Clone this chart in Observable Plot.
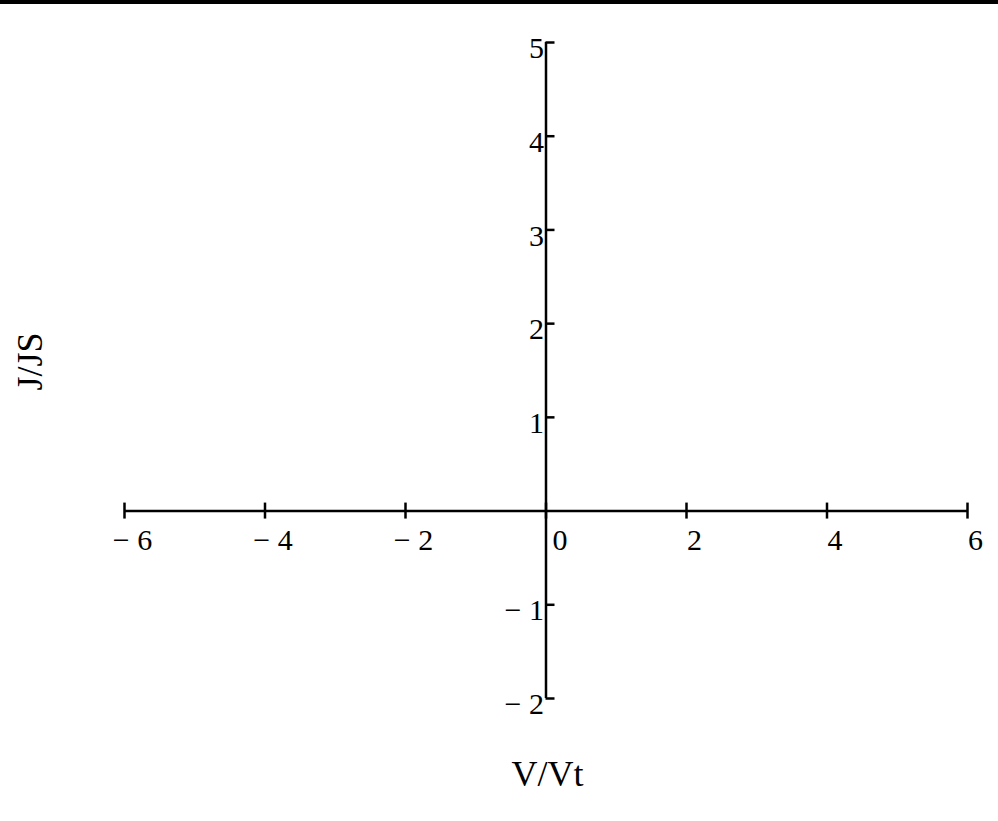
<!DOCTYPE html>
<html>
<head>
<meta charset="utf-8">
<script src="https://cdn.jsdelivr.net/npm/d3@7"></script>
<script src="https://cdn.jsdelivr.net/npm/@observablehq/plot@0.6"></script>
<style>
  html, body { margin: 0; padding: 0; background: #fff; }
  #bar { height: 4px; background: #000; width: 998px; }
  svg { display: block; }
</style>
</head>
<body>
<div id="bar"></div>
<div id="chart"></div>
<script>
// Axis extents and tick values (no data curve is drawn in the reference)
const xDomain = [-6, 6];
const yDomain = [-2, 5];
const xTicks = [-6, -4, -2, 0, 2, 4, 6];
const xTickLabels = ["\u2212 6", "\u2212 4", "\u2212 2", "0", "2", "4", "6"];
const yTicks = [-2, -1, 1, 2, 3, 4, 5];
const yTickLabels = ["\u2212 2", "\u2212 1", "1", "2", "3", "4", "5"];
const xTitle = "V/Vt";
const yTitle = "J/JS";

const xLab = xTicks.map((v, i) => ({v, t: xTickLabels[i]}));
const yLab = yTicks.map((v, i) => ({v, t: yTickLabels[i]}));

const font = "'Liberation Serif', 'Times New Roman', serif";

const chart = Plot.plot({
  width: 998,
  height: 817,
  marginLeft: 124,
  marginRight: 31,
  marginTop: 38,
  marginBottom: 123,
  style: {fontFamily: font, fontSize: "30px", color: "#000", background: "#fff"},
  x: {domain: xDomain, axis: null},
  y: {domain: yDomain, axis: null},
  marks: [
    // x axis line
    Plot.ruleY([0], {x1: xDomain[0], x2: xDomain[1], stroke: "#000", strokeWidth: 2.5}),
    // y axis line
    Plot.ruleX([0], {y1: yDomain[0], y2: yDomain[1], stroke: "#000", strokeWidth: 2.5}),
    // x ticks (crossing)
    Plot.ruleX(xTicks, {x: d => d, y1: 0, y2: 0, insetTop: -8, insetBottom: -8, stroke: "#000", strokeWidth: 2.5}),
    // y ticks (to the right)
    Plot.ruleY(yTicks, {y: d => d, x1: 0, x2: 0, insetRight: -9, stroke: "#000", strokeWidth: 2.5}),
    // x tick labels
    Plot.text(xLab.filter(d => d.v !== 0), {x: "v", y: 0, text: "t", dx: 8, dy: 29, textAnchor: "middle", fill: "#000", fontSize: 30}),
    Plot.text(xLab.filter(d => d.v === 0), {x: "v", y: 0, text: "t", dx: 14, dy: 29, textAnchor: "middle", fill: "#000", fontSize: 30}),
    // y tick labels
    Plot.text(yLab, {x: 0, y: "v", text: "t", dx: -2, dy: 6, textAnchor: "end", fill: "#000", fontSize: 30}),
    // axis titles
    Plot.text([xTitle], {frameAnchor: "bottom", text: d => d, dx: 1.5, dy: 87, fontSize: 36, fill: "#000"}),
    Plot.text([yTitle], {frameAnchor: "left", text: d => d, dx: -94, dy: 20, rotate: -90, fontSize: 36, fill: "#000"})
  ]
});
document.getElementById("chart").appendChild(chart);
</script>
</body>
</html>
